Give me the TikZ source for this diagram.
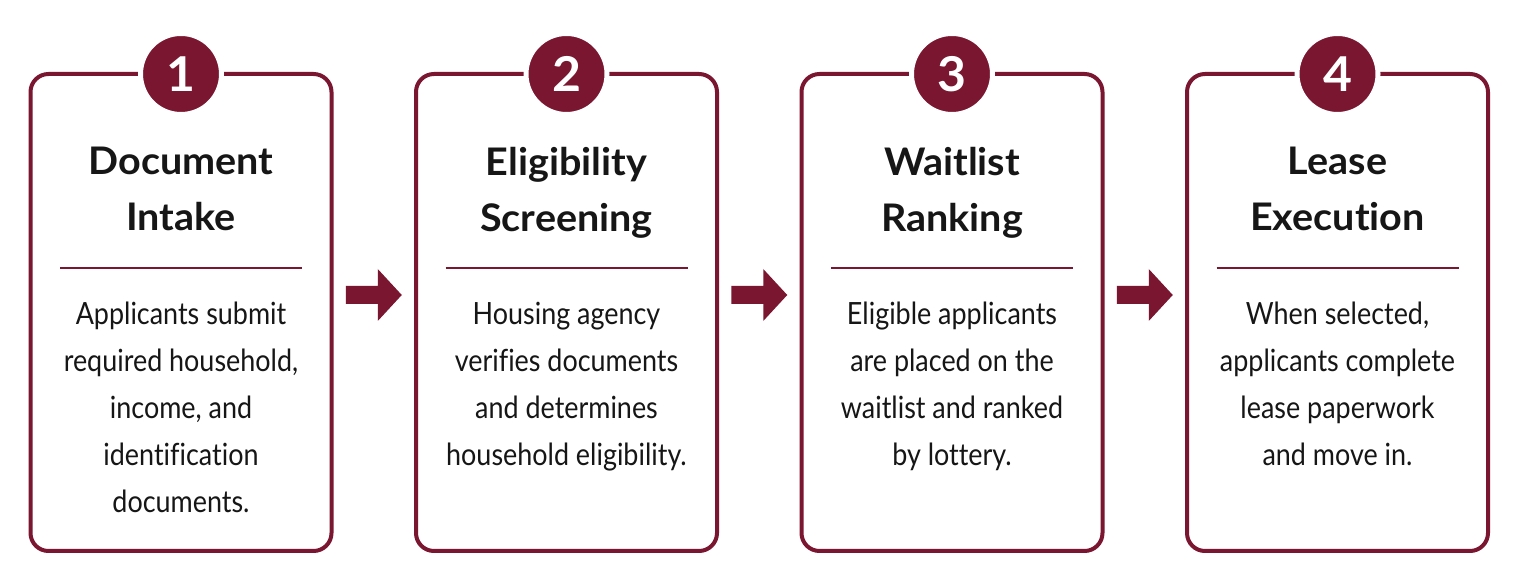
\documentclass[tikz,border=0pt]{standalone}
\usepackage{fontspec}
\setmainfont{Lato}
\newfontfamily\bodyfont{Lato}[FakeStretch=0.88,Ligatures=NoCommon]
\newfontfamily\headfont{Lato}[FakeStretch=1.04,Ligatures=NoCommon]
\usetikzlibrary{calc}
\definecolor{maroon}{RGB}{122,22,48}
\definecolor{ink}{RGB}{22,22,22}
\tikzset{
  x=0.5pt, y=-0.5pt,
  card/.style={draw=maroon, line width=2pt, rounded corners=9pt, fill=white,
    minimum width=150.5pt, minimum height=238.5pt, inner sep=0pt},
  badge/.style={circle, fill=maroon, draw=white, line width=2.5pt,
    minimum size=40.5pt, inner sep=0pt, text=white,
    font=\headfont\bfseries\fontsize{24}{24}\selectfont},
  steptitle/.style={anchor=north, align=center, inner sep=0pt, text=ink,
    font=\headfont\bfseries\fontsize{19}{28}\selectfont},
  stepdesc/.style={anchor=north, align=center, inner sep=0pt, text=ink,
    font=\bodyfont\fontsize{15.3}{23.4}\selectfont},
  divider/.style={draw=maroon, line width=1.4pt},
  blockarrow/.style={fill=maroon, draw=none}
}
\newcommand\stepcard[4]{%
  \node[card] (box#1) at (#2,312.5) {};
  \node[badge] (num#1) at (#2,74) {#1};
  \node[steptitle] (title#1) at (#2,147) {#3};
  \draw[divider] ({#2-121},268) -- ({#2+121},268);
  \node[stepdesc] (desc#1) at (#2,302) {#4};
}
\newcommand\blockarrow[3]{%
  \coordinate (arr#1) at ($($(box#2.east)!0.5!(box#3.west)$)+(0,-17.5)$);
  \fill[blockarrow] ($(arr#1)+(-28,-9)$) -- ($(arr#1)+(4,-9)$) -- ($(arr#1)+(4,-26)$)
    -- ($(arr#1)+(28,0)$) -- ($(arr#1)+(4,26)$) -- ($(arr#1)+(4,9)$)
    -- ($(arr#1)+(-28,9)$) -- cycle;
}
\begin{document}
\begin{tikzpicture}
\fill[white] (0,0) rectangle (1522,582);
\useasboundingbox (0,0) rectangle (1522,582);
\stepcard{1}{181}{Document\\Intake}{Applicants submit\\required household,\\income, and\\identification\\documents.}
\stepcard{2}{566.5}{Eligibility\\Screening}{Housing agency\\verifies documents\\and determines\\household eligibility.}
\stepcard{3}{952}{Waitlist\\Ranking}{Eligible applicants\\are placed on the\\waitlist and ranked\\by lottery.}
\stepcard{4}{1337.5}{Lease\\Execution}{When selected,\\applicants complete\\lease paperwork\\and move in.}
\blockarrow{1}{1}{2}
\blockarrow{2}{2}{3}
\blockarrow{3}{3}{4}
\end{tikzpicture}
\end{document}
